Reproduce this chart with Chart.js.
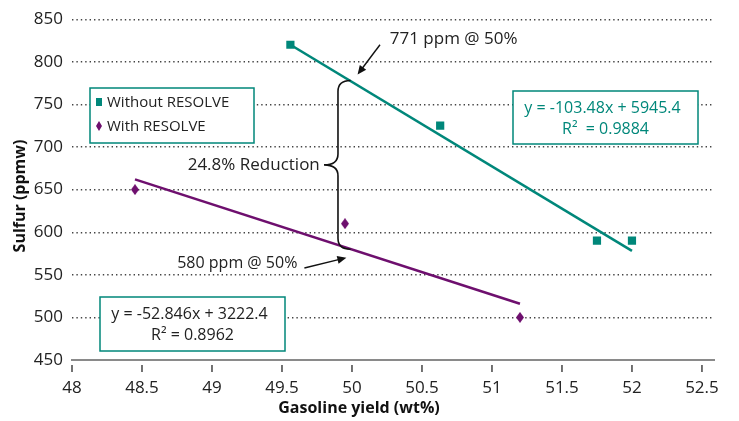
<!DOCTYPE html>
<html>
<head>
<meta charset="utf-8">
<script src="https://cdn.jsdelivr.net/npm/chart.js@4.4.0/dist/chart.umd.min.js"></script>
<style>
  html, body { margin: 0; padding: 0; background: #fff; }
  #wrap { width: 739px; height: 421px; position: relative; }
</style>
</head>
<body>
<div id="wrap"><canvas id="chart"></canvas></div>
<script>
// values
const seriesNames = ['Without RESOLVE', 'With RESOLVE'];
const withoutX = [49.56, 50.63, 51.75, 52.0];
const withoutY = [820, 725, 590, 590];
const withX = [48.45, 49.95, 51.2];
const withY = [650, 610, 500];
// trend lines, end points as drawn
const withoutTrendX = [49.56, 52.0];
const withoutTrendY = [820, 578];
const withTrendX = [48.45, 51.2];
const withTrendY = [662, 516];

const xTicks = [48, 48.5, 49, 49.5, 50, 50.5, 51, 51.5, 52, 52.5];
const yTicks = [450, 500, 550, 600, 650, 700, 750, 800, 850];

const eqWithout = ['y = -103.48x + 5945.4', 'R\u00B2  = 0.9884'];
const eqWith = ['y = -52.846x + 3222.4', 'R\u00B2 = 0.8962'];
const note771 = '771 ppm @ 50%';
const note580 = '580 ppm @ 50%';
const noteReduction = '24.8% Reduction';
const xTitle = 'Gasoline yield (wt%)';
const yTitle = 'Sulfur (ppmw)';

const TEAL = '#00877a';
const PURPLE = '#6e0f6e';
const INK = '#222';
const FONT = '"Open Sans", sans-serif';

function diamond(w, h, color) {
  const c = document.createElement('canvas');
  c.width = w; c.height = h;
  const g = c.getContext('2d');
  g.fillStyle = color;
  g.beginPath();
  g.moveTo(w / 2, 0); g.lineTo(w, h / 2); g.lineTo(w / 2, h); g.lineTo(0, h / 2);
  g.closePath(); g.fill();
  return c;
}

function arrow(ctx, x1, y1, x2, y2) {
  const a = Math.atan2(y2 - y1, x2 - x1);
  ctx.beginPath(); ctx.moveTo(x1, y1); ctx.lineTo(x2 - 6 * Math.cos(a), y2 - 6 * Math.sin(a)); ctx.stroke();
  ctx.beginPath();
  ctx.moveTo(x2, y2);
  ctx.lineTo(x2 - 9 * Math.cos(a) + 4 * Math.sin(a), y2 - 9 * Math.sin(a) - 4 * Math.cos(a));
  ctx.lineTo(x2 - 9 * Math.cos(a) - 4 * Math.sin(a), y2 - 9 * Math.sin(a) + 4 * Math.cos(a));
  ctx.closePath(); ctx.fill();
}

function textBox(ctx, x, y, w, h, lines, color, size) {
  ctx.fillStyle = '#fff';
  ctx.fillRect(x, y, w, h);
  ctx.strokeStyle = TEAL; ctx.lineWidth = 1.5;
  ctx.strokeRect(x, y, w, h);
  ctx.fillStyle = color;
  ctx.font = size + 'px ' + FONT;
  ctx.textAlign = 'center'; ctx.textBaseline = 'middle';
  ctx.fillText(lines[0], x + w / 2 - 3, y + h * 0.33);
  ctx.fillText(lines[1], x + w / 2, y + h * 0.72);
}

const notes = {
  id: 'notes',
  afterDatasetsDraw(chart) {
    const { ctx, scales: { x, y } } = chart;
    const px = v => x.getPixelForValue(v), py = v => y.getPixelForValue(v);
    ctx.save();

    // tick marks under the x axis
    ctx.strokeStyle = '#444'; ctx.lineWidth = 1.5;
    xTicks.forEach(v => {
      ctx.beginPath(); ctx.moveTo(px(v), y.bottom + 5); ctx.lineTo(px(v), y.bottom + 12); ctx.stroke();
    });

    // brace between the two trend lines at 50%
    const bx = px(49.9), tipX = px(49.8), endX = px(49.99);
    const top = py(778), mid = py(679), bot = py(580), r = 11;
    ctx.strokeStyle = '#111'; ctx.lineWidth = 1.6;
    ctx.beginPath();
    ctx.moveTo(endX, top);
    ctx.quadraticCurveTo(bx, top, bx, top + r);
    ctx.lineTo(bx, mid - r);
    ctx.quadraticCurveTo(bx, mid, tipX, mid);
    ctx.quadraticCurveTo(bx, mid, bx, mid + r);
    ctx.lineTo(bx, bot - r);
    ctx.quadraticCurveTo(bx, bot, endX, bot);
    ctx.stroke();

    // arrows and notes
    ctx.fillStyle = '#111'; ctx.lineWidth = 1.4;
    arrow(ctx, px(50.2), py(820), px(50.04), py(785));
    arrow(ctx, px(49.66), py(558), px(49.96), py(570));

    ctx.fillStyle = INK;
    ctx.font = '17px ' + FONT;
    ctx.textBaseline = 'middle';
    ctx.textAlign = 'left';
    ctx.fillText(note771, px(50.27), py(827));
    ctx.textAlign = 'right';
    ctx.font = '16px ' + FONT;
    ctx.fillText(note580, px(49.61), py(563));
    ctx.font = '17px ' + FONT;
    ctx.fillText(noteReduction, px(49.77), mid);

    // legend box
    ctx.fillStyle = '#fff';
    ctx.fillRect(90, 88, 164, 55);
    ctx.strokeStyle = TEAL; ctx.lineWidth = 1.5;
    ctx.strokeRect(90, 88, 164, 55);
    ctx.fillStyle = TEAL;
    ctx.fillRect(96, 98, 6, 8);
    ctx.drawImage(diamond(6, 10, PURPLE), 96, 121);
    ctx.fillStyle = INK;
    ctx.font = '15px ' + FONT;
    ctx.textAlign = 'left';
    ctx.fillText(seriesNames[0], 107, 103);
    ctx.fillText(seriesNames[1], 107, 127);

    // equation boxes
    textBox(ctx, 513, 91, 185, 53, eqWithout, TEAL, 16);
    textBox(ctx, 100, 297, 185, 54, eqWith, INK, 16);

    // axis titles
    ctx.fillStyle = '#111';
    ctx.font = 'bold 16px ' + FONT;
    ctx.textAlign = 'center';
    ctx.fillText(xTitle, 359, 408);
    ctx.translate(20, 196);
    ctx.rotate(-Math.PI / 2);
    ctx.fillText(yTitle, 0, 0);
    ctx.restore();
  }
};

function build() {
  Chart.defaults.font.family = FONT;
  Chart.defaults.color = INK;
  new Chart(document.getElementById('chart'), {
    type: 'scatter',
    data: {
      datasets: [
        {
          label: seriesNames[0],
          data: withoutX.map((v, i) => ({ x: v, y: withoutY[i] })),
          pointStyle: 'rect', pointRadius: 5.8, backgroundColor: TEAL, borderWidth: 0
        },
        {
          label: seriesNames[1],
          data: withX.map((v, i) => ({ x: v, y: withY[i] })),
          pointStyle: diamond(8, 11, PURPLE), pointRadius: 6
        },
        {
          type: 'line', label: 'trend1',
          data: withoutTrendX.map((v, i) => ({ x: v, y: withoutTrendY[i] })),
          borderColor: TEAL, borderWidth: 2.6, pointRadius: 0, fill: false
        },
        {
          type: 'line', label: 'trend2',
          data: withTrendX.map((v, i) => ({ x: v, y: withTrendY[i] })),
          borderColor: PURPLE, borderWidth: 2.6, pointRadius: 0, fill: false
        }
      ]
    },
    options: {
      responsive: true,
      maintainAspectRatio: false,
      animation: false,
      events: [],
      layout: { padding: { top: 16, right: 25, left: 0, bottom: 0 } },
      plugins: { legend: { display: false }, tooltip: { enabled: false } },
      scales: {
        x: {
          type: 'linear', min: 48, max: 52.586,
          afterBuildTicks: s => { s.ticks = xTicks.map(v => ({ value: v })); },
          afterFit: s => { s.height = 61; },
          grid: { display: false, drawTicks: false },
          border: { display: true, color: '#8a8a8a', width: 2 },
          ticks: { padding: 18, font: { size: 17 }, color: INK, maxRotation: 0, callback: v => String(v) }
        },
        y: {
          type: 'linear', min: 450, max: 850,
          afterBuildTicks: s => { s.ticks = yTicks.map(v => ({ value: v })); },
          afterFit: s => { s.width = 72; },
          grid: {
            drawTicks: false,
            color: c => c.tick && c.tick.value === 450 ? 'rgba(0,0,0,0)' : '#444',
            lineWidth: 1.4
          },
          border: { display: false, dash: [1.4, 3] },
          ticks: { padding: 9, font: { size: 17 }, color: INK, callback: v => String(v) }
        }
      }
    },
    plugins: [notes]
  });
}

Promise.all([
  document.fonts.load('16px "Open Sans"'),
  document.fonts.load('bold 16px "Open Sans"')
]).then(build, build);
</script>
</body>
</html>
